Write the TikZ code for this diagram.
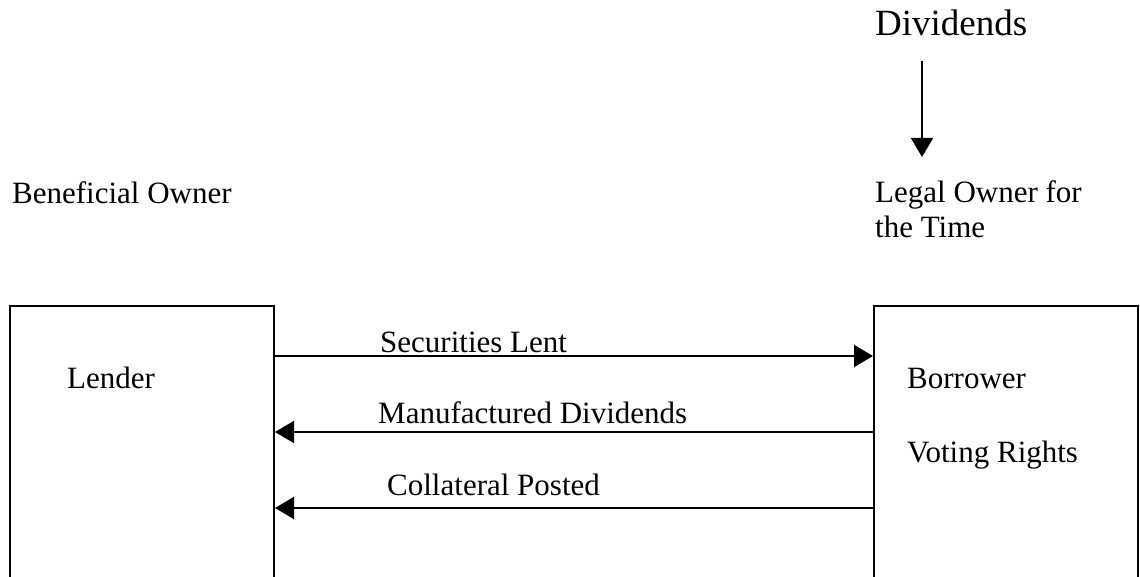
\documentclass[tikz,border=0pt]{standalone}
\usepackage{fontspec}
\setmainfont{Liberation Serif}
\usetikzlibrary{arrows.meta}
\begin{document}
\begin{tikzpicture}[x=1pt,y=-1pt,
  lbl/.style={inner sep=0pt, anchor=base west, font=\fontsize{31}{35}\selectfont},
  big/.style={inner sep=0pt, anchor=base west, font=\fontsize{37}{42}\selectfont},
  party/.style={draw, line width=2pt, minimum width=264pt, minimum height=330pt, inner sep=0pt},
  flow/.style={line width=2pt, -{Triangle[length=19pt,width=22pt]}}]
\useasboundingbox (0,0) rectangle (1140,577);
\clip (0,0) rectangle (1140,577);

% the two parties (boxes run off the lower edge)
\node[party] (lender)   at (142,471)  {};
\node[party] (borrower) at (1006,471) {};

% headings above the boxes
\node[lbl] (benef) at (12,204) {Beneficial Owner};
\node[lbl, align=left] (legal) at (875,238) {Legal Owner for\\the Time};
\node[big] (div) at (875,36) {Dividends};
\coordinate (divfrom) at (922,61);
\coordinate (divto)   at (922,157);
\draw[flow] (divfrom) -- (divto);

% names inside the boxes
\node[lbl] (lname)  at (67,388)  {Lender};
\node[lbl] (bname)  at (907,388) {Borrower};
\node[lbl] (voting) at (907,462) {Voting Rights};

% flows between lender and borrower
\draw[flow] (lender.east |- 0,356) -- (borrower.west |- 0,356);
\draw[flow] (borrower.west |- 0,432) -- (lender.east |- 0,432);
\draw[flow] (borrower.west |- 0,508) -- (lender.east |- 0,508);

\node[lbl] (lent)  at (380,352) {Securities Lent};
\node[lbl] (manuf) at (378,423) {Manufactured Dividends};
\node[lbl] (coll)  at (387,495) {Collateral Posted};
\end{tikzpicture}
\end{document}
